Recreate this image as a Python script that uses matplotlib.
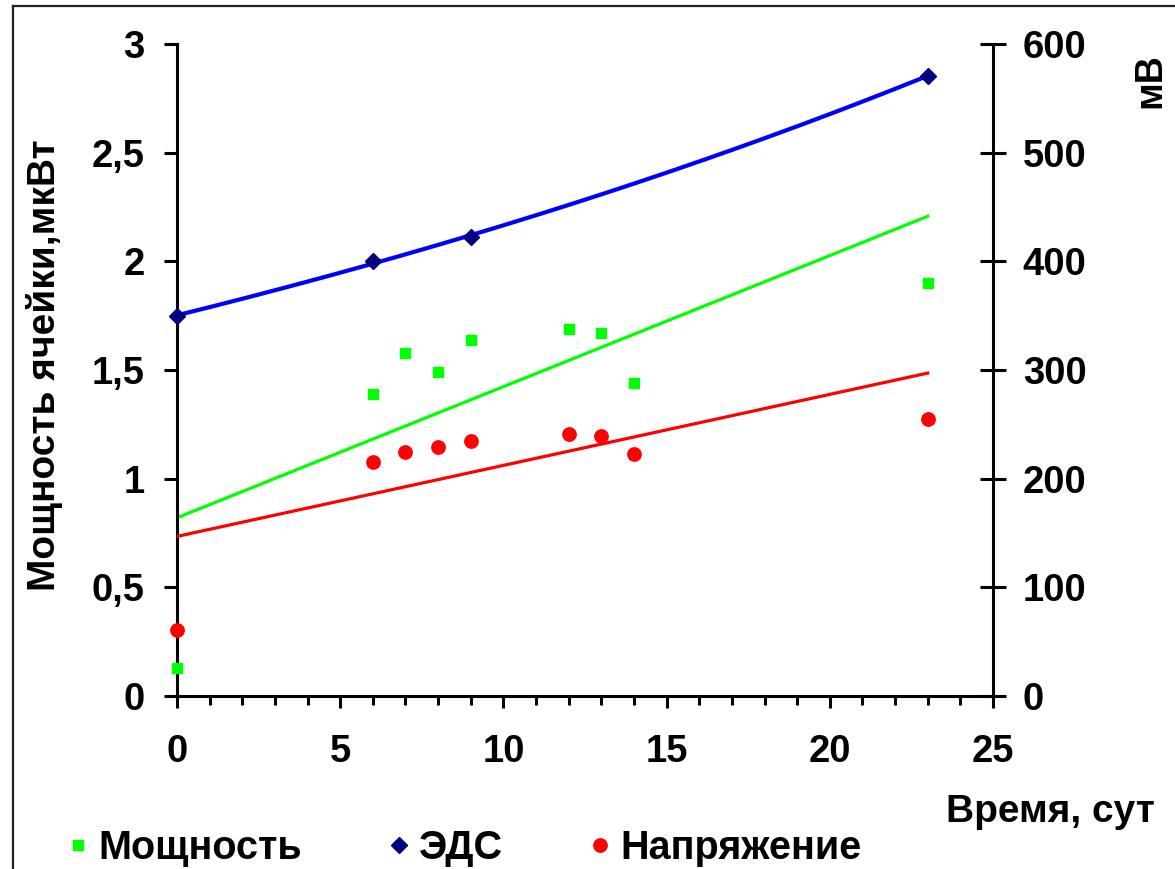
import matplotlib
matplotlib.use('Agg')
import matplotlib.pyplot as plt
import numpy as np
from matplotlib.lines import Line2D
from matplotlib.ticker import FuncFormatter, MultipleLocator

plt.rcParams['font.family'] = ['Liberation Sans', 'DejaVu Sans']
plt.rcParams['font.weight'] = 'bold'

# Measurements over time (days)
days = [0, 6, 7, 8, 9, 12, 13, 14, 23]
power = [0.13, 1.39, 1.58, 1.49, 1.64, 1.69, 1.67, 1.44, 1.90]      # uW
voltage = [61, 215, 225, 229, 235, 241, 239, 223, 255]               # mV
emf_days = [0, 6, 9, 23]
emf = [350, 400, 422, 571]                                            # mV

x_ticks = [0, 5, 10, 15, 20, 25]
left_ticks = [0, 0.5, 1, 1.5, 2, 2.5, 3]
right_ticks = [0, 100, 200, 300, 400, 500, 600]

W, H = 1175, 869
fig = plt.figure(figsize=(W / 100, H / 100), dpi=100)
ax = fig.add_axes([177 / W, 1 - 696 / H, (993 - 177) / W, (696 - 44) / H])
ax2 = ax.twinx()

# Trend lines: linear for power and voltage, exponential for EMF
xt = np.linspace(0, 23, 200)
p_fit = np.polyfit(days, power, 1)
v_fit = np.polyfit(days, voltage, 1)
e_fit = np.polyfit(emf_days, np.log(emf), 1)

ax.plot(xt, np.polyval(p_fit, xt), color='#00FF00', lw=2.3, zorder=2)
ax2.plot(xt, np.polyval(v_fit, xt), color='#FF0000', lw=2.3, zorder=2)
ax2.plot(xt, np.exp(np.polyval(e_fit, xt)), color='#0000FF', lw=3.0, zorder=2)

h1, = ax.plot(days, power, ls='none', marker='s', ms=7.6, mfc='#00FF00',
              mec='#00FF00', clip_on=False, zorder=5, label='Мощность')
h2, = ax2.plot(emf_days, emf, ls='none', marker='D', ms=8.6, mfc='#000080',
               mec='#000080', clip_on=False, zorder=5, label='ЭДС')
h3, = ax2.plot(days, voltage, ls='none', marker='o', ms=9.6, mfc='#FF0000',
               mec='#FF0000', clip_on=False, zorder=5, label='Напряжение')

ax.set_xlim(0, 25)
ax.set_ylim(0, 3)
ax2.set_ylim(0, 600)
ax.set_xticks(x_ticks)
ax.xaxis.set_minor_locator(MultipleLocator(1))
ax.set_yticks(left_ticks)
ax2.set_yticks(right_ticks)
ax.yaxis.set_major_formatter(FuncFormatter(lambda v, p: '{:g}'.format(v).replace('.', ',')))

for s in ['top', 'right']:
    ax.spines[s].set_visible(False)
for s in ['top', 'left', 'bottom']:
    ax2.spines[s].set_visible(False)
for s in ['left', 'bottom']:
    ax.spines[s].set_linewidth(2.2)
ax2.spines['right'].set_linewidth(2.2)

ax.tick_params(axis='y', direction='out', length=9.4, width=2.2, pad=14, labelsize=27.5)
ax.tick_params(axis='x', which='major', direction='out', length=8.6, width=2.2, pad=19, labelsize=27.5)
ax.tick_params(axis='x', which='minor', direction='out', length=6.5, width=2.2)
ax2.tick_params(axis='y', direction='inout', length=19, width=2.2, pad=12, labelsize=27.5)

fig.text(45 / W, 1 - 365 / H, 'Мощность ячейки,мкВт', rotation=90, fontsize=28,
         ha='center', va='center')
fig.text(1150 / W, 1 - 81 / H, 'мВ', rotation=90, fontsize=27, ha='center', va='center')
fig.text(1155 / W, 1 - 822 / H, 'Время, сут', fontsize=28, ha='right', va='baseline')

fig.legend(handles=[h1, h2, h3], loc='center left', bbox_to_anchor=(68 / W, 1 - 848 / H),
           ncol=3, frameon=False, fontsize=28.5, handlelength=0.5, handletextpad=0.26,
           columnspacing=2.2, borderpad=0, borderaxespad=0)

# outer frame (left and top edges)
fig.add_artist(Line2D([13 / W, 13 / W], [0, 1 - 6 / H], color='#222222', lw=1.6))
fig.add_artist(Line2D([13 / W, 1], [1 - 6 / H, 1 - 6 / H], color='#222222', lw=1.6))

fig.savefig('out.png', dpi=100)
